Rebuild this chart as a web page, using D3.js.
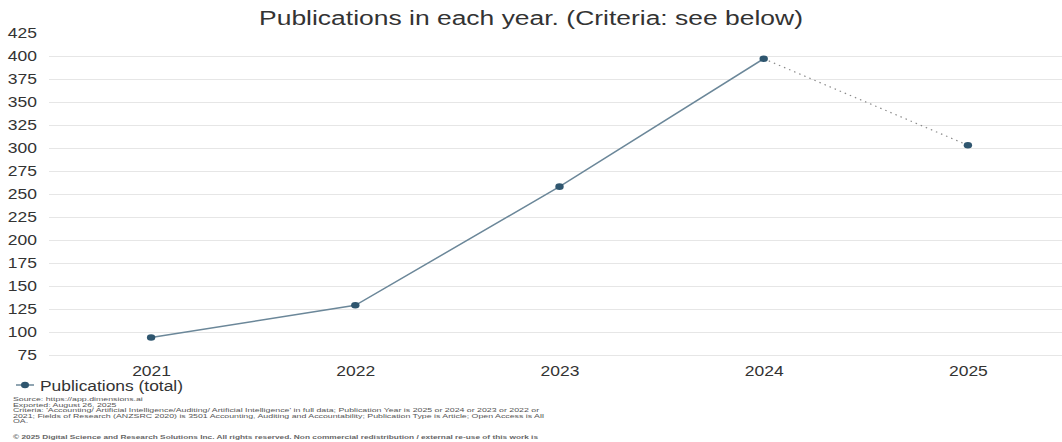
<!DOCTYPE html>
<html>
<head>
<meta charset="utf-8">
<script src="https://cdn.jsdelivr.net/npm/d3@7"></script>
<style>
  html, body { margin: 0; padding: 0; background: #fff; }
  svg { display: block; font-family: "Liberation Sans", Arial, sans-serif; }
</style>
</head>
<body>
<svg id="chart" width="1062" height="442"></svg>
<script>
// Publications per year
const years = ["2021", "2022", "2023", "2024", "2025"];
const publications = [94, 129, 258, 397, 303];
const yTicks = [75, 100, 125, 150, 175, 200, 225, 250, 275, 300, 325, 350, 375, 400, 425];
const titleText = "Publications in each year. (Criteria: see below)";
const legendLabel = "Publications (total)";
const footerLines = [
  "Source: https://app.dimensions.ai",
  "Exported: August 26, 2025",
  "Criteria: 'Accounting/ Artificial Intelligence/Auditing/ Artificial Intelligence' in full data; Publication Year is 2025 or 2024 or 2023 or 2022 or",
  "2021; Fields of Research (ANZSRC 2020) is 3501 Accounting, Auditing and Accountability; Publication Type is Article; Open Access is All",
  "OA."
];
const copyright = "© 2025 Digital Science and Research Solutions Inc. All rights reserved. Non commercial redistribution / external re-use of this work is";

const svg = d3.select("#chart");
const W = 1062;
const plot = { left: 49, right: 1070, top: 33, bottom: 355 };
const SX = 1.25; // horizontal widening of the lettering

const x = d3.scalePoint().domain(years).range([plot.left, plot.right]).padding(0.5);
const y = d3.scaleLinear().domain([75, 425]).range([plot.bottom, plot.top]);

// title
svg.append("g")
  .attr("transform", `translate(${W / 2},25) scale(1.26,1)`)
  .append("text")
  .attr("text-anchor", "middle")
  .attr("font-size", 21)
  .attr("fill", "#333")
  .text(titleText);

// horizontal grid lines with value labels
const yAxis = d3.axisLeft(y).tickValues(yTicks).tickSize(-(W - plot.left)).tickPadding(0);
const gy = svg.append("g").attr("transform", `translate(${plot.left},0)`).call(yAxis);
gy.select(".domain").remove();
gy.selectAll(".tick line")
  .attr("stroke", "#e6e6e6")
  .attr("stroke-width", 1)
  .attr("opacity", d => d === 425 ? 0 : 1);
gy.selectAll(".tick text")
  .attr("x", -12 / SX)
  .attr("transform", `scale(${SX},1)`)
  .attr("font-size", 14)
  .attr("fill", "#333")
  .attr("font-family", "'Liberation Sans', Arial, sans-serif");

// year axis
const xAxis = d3.axisBottom(x).tickSize(0).tickPadding(11);
const gx = svg.append("g").attr("transform", `translate(0,${plot.bottom})`).call(xAxis);
gx.select(".domain").remove();
gx.selectAll(".tick text")
  .attr("transform", `scale(${SX},1)`)
  .attr("font-size", 14)
  .attr("fill", "#333")
  .attr("font-family", "'Liberation Sans', Arial, sans-serif");

const pts = years.map((yr, i) => ({ year: yr, value: publications[i] }));
const line = d3.line().x(d => x(d.year)).y(d => y(d.value));

// completed years: solid
svg.append("path")
  .datum(pts.slice(0, 4))
  .attr("d", line)
  .attr("fill", "none")
  .attr("stroke", "#6b8799")
  .attr("stroke-width", 1.5);

// current (partial) year: dotted
svg.append("path")
  .datum(pts.slice(3))
  .attr("d", line)
  .attr("fill", "none")
  .attr("stroke", "#8a8a8a")
  .attr("stroke-width", 1.2)
  .attr("stroke-dasharray", "1.5,4");

svg.append("g").selectAll("ellipse")
  .data(pts)
  .join("ellipse")
  .attr("cx", d => x(d.year))
  .attr("cy", d => y(d.value))
  .attr("rx", 4.2).attr("ry", 3.3)
  .attr("fill", "#2f566f");

// legend
const lg = svg.append("g").attr("transform", "translate(16,385)");
lg.append("line").attr("x1", 0).attr("x2", 18).attr("y1", 0).attr("y2", 0)
  .attr("stroke", "#6b8799").attr("stroke-width", 1.5);
lg.append("ellipse").attr("cx", 9).attr("cy", 0).attr("rx", 4).attr("ry", 3.2).attr("fill", "#2f566f");
lg.append("g").attr("transform", "translate(24,5.5) scale(1.2,1)")
  .append("text")
  .attr("font-size", 14.5).attr("fill", "#333").text(legendLabel);

// footer notes
svg.append("g").attr("transform", "translate(13,0) scale(1.76,1)")
  .selectAll("text.note")
  .data(footerLines)
  .join("text")
  .attr("class", "note")
  .attr("x", 0)
  .attr("y", (d, i) => 401 + i * 5.6)
  .attr("font-size", 5)
  .attr("fill", "#555")
  .text(d => d);
svg.append("g").attr("transform", "translate(13,438.5) scale(1.66,1)")
  .append("text")
  .attr("font-size", 5)
  .attr("font-weight", "bold")
  .attr("fill", "#666")
  .text(copyright);
</script>
</body>
</html>
